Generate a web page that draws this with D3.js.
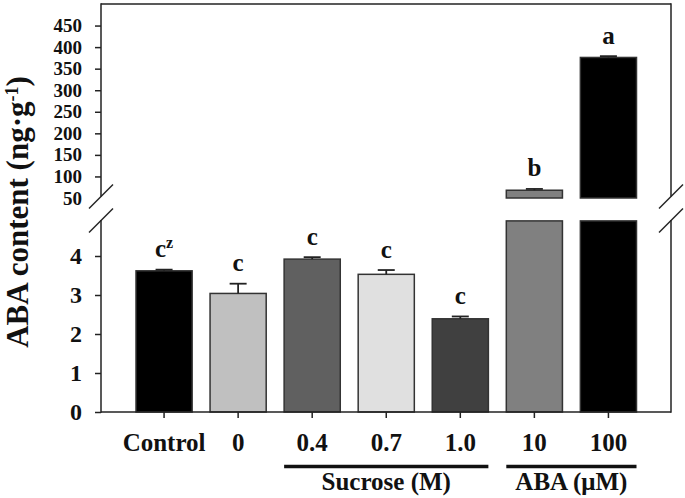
<!DOCTYPE html>
<html>
<head>
<meta charset="utf-8">
<script src="https://cdn.jsdelivr.net/npm/d3@7"></script>
<style>
  html, body { margin: 0; padding: 0; background: #fff; }
  svg { display: block; }
  text { font-family: "Liberation Serif", "Times New Roman", serif; font-weight: bold; fill: #111; }
</style>
</head>
<body>
<script>
// ---- data ----
const categories = ["Control", "0", "0.4", "0.7", "1.0", "10", "100"];
const values     = [3.62, 3.04, 3.92, 3.53, 2.39, 68, 376];
const errors     = [0.03, 0.25, 0.05, 0.11, 0.06, 3, 3];
const letters    = ["c", "c", "c", "c", "c", "b", "a"];
const fills      = ["#000000", "#c0c0c0", "#606060", "#e0e0e0", "#404040", "#808080", "#000000"];
const lowerTicks = [0, 1, 2, 3, 4];
const upperTicks = [50, 100, 150, 200, 250, 300, 350, 400, 450];
const groupLabels = ["Sucrose (M)", "ABA (\u03BCM)"];
const groupFrom   = ["0.4", "10"];
const groupTo     = ["1.0", "100"];
const lowerMax = 4.9, upperMin = 50, upperMax = 500;

// ---- layout ----
const W = 685, H = 498;
const pLeft = 101, pRight = 671, pTop = 4, pBottom = 412;
const lowerTop = 220.9, upperBottom = 198;

const svg = d3.select("body").append("svg").attr("width", W).attr("height", H);

const x = d3.scaleBand().domain(categories).range([136, 636.5]).paddingInner(0.242).paddingOuter(0);
const ylo = d3.scaleLinear().domain([0, lowerMax]).range([pBottom, lowerTop]);
const yhi = d3.scaleLinear().domain([upperMin, upperMax]).range([upperBottom, pTop]);

const data = categories.map((c, i) => ({ c, v: values[i], e: errors[i], l: letters[i], f: fills[i] }));

// bars
const bars = svg.append("g");
data.forEach(d => {
  const bx = x(d.c), bw = x.bandwidth();
  if (d.v <= lowerMax) {
    bars.append("rect").attr("x", bx).attr("y", ylo(d.v)).attr("width", bw).attr("height", ylo(0) - ylo(d.v))
      .attr("fill", d.f).attr("stroke", "#333").attr("stroke-width", 1.5);
  } else {
    bars.append("rect").attr("x", bx).attr("y", ylo(lowerMax)).attr("width", bw).attr("height", ylo(0) - ylo(lowerMax))
      .attr("fill", d.f).attr("stroke", "#333").attr("stroke-width", 1.5);
    bars.append("rect").attr("x", bx).attr("y", yhi(d.v)).attr("width", bw).attr("height", yhi(upperMin) - yhi(d.v))
      .attr("fill", d.f).attr("stroke", "#333").attr("stroke-width", 1.5);
  }
});

// error bars and letters
const eg = svg.append("g").attr("stroke", "#222").attr("stroke-width", 1.8);
data.forEach(d => {
  const s = d.v <= lowerMax ? ylo : yhi;
  const cx = x(d.c) + x.bandwidth() / 2;
  const y0 = s(d.v), y1 = s(d.v + d.e);
  eg.append("line").attr("x1", cx).attr("x2", cx).attr("y1", y0).attr("y2", y1);
  eg.append("line").attr("x1", cx - 8.5).attr("x2", cx + 8.5).attr("y1", y1).attr("y2", y1);
  const t = svg.append("text").attr("x", cx).attr("y", y1 - 12.5).attr("text-anchor", "middle")
    .style("font-size", "25px").text(d.l);
  if (d.c === "Control") {
    t.append("tspan").attr("dy", -9).style("font-size", "16px").text("z");
  }
});

// frame lines
const lg = svg.append("g").attr("stroke", "#222").attr("stroke-width", 1.5).attr("fill", "none");
lg.append("line").attr("x1", pLeft).attr("x2", pRight).attr("y1", pTop).attr("y2", pTop);
lg.append("line").attr("x1", pLeft).attr("x2", pRight).attr("y1", pBottom).attr("y2", pBottom);
[pLeft, pRight].forEach(xx => {
  lg.append("line").attr("x1", xx).attr("x2", xx).attr("y1", pTop - 0.75).attr("y2", upperBottom - 1.5);
  lg.append("line").attr("x1", xx).attr("x2", xx).attr("y1", lowerTop - 0.9).attr("y2", pBottom + 0.75);
  [upperBottom - 1.5, lowerTop - 0.4].forEach(yy => {
    lg.append("line").attr("x1", xx - 12).attr("x2", xx + 12).attr("y1", yy + 12).attr("y2", yy - 12);
  });
});

// left axes
const axLo = svg.append("g").attr("transform", `translate(${pLeft},0)`)
  .call(d3.axisLeft(ylo).tickValues(lowerTicks).tickSize(6).tickPadding(13).tickFormat(d3.format("d")));
const axHi = svg.append("g").attr("transform", `translate(${pLeft},0)`)
  .call(d3.axisLeft(yhi).tickValues(upperTicks).tickSize(6).tickPadding(13).tickFormat(d3.format("d")));
[axLo, axHi].forEach(a => {
  a.select(".domain").remove();
  a.selectAll(".tick line").attr("stroke", "#222").attr("stroke-width", 1.5);
  a.selectAll(".tick text").attr("fill", "#111")
    .style("font-family", "'Liberation Serif','Times New Roman',serif").style("font-weight", "bold");
});
axLo.selectAll(".tick text").style("font-size", "24px");
axHi.selectAll(".tick text").style("font-size", "19px");
axHi.selectAll(".tick").filter(d => d === upperMin).select("line").remove();

// bottom axis
const axX = svg.append("g").attr("transform", `translate(0,${pBottom})`)
  .call(d3.axisBottom(x).tickSize(6).tickPadding(15));
axX.select(".domain").remove();
axX.selectAll(".tick line").attr("stroke", "#222").attr("stroke-width", 1.5);
axX.selectAll(".tick text").style("font-size", "25px").attr("fill", "#111")
  .style("font-family", "'Liberation Serif','Times New Roman',serif").style("font-weight", "bold");

// group underlines and labels
groupLabels.forEach((g, i) => {
  const x0 = x(groupFrom[i]), x1 = x(groupTo[i]) + x.bandwidth();
  svg.append("line").attr("x1", x0).attr("x2", x1).attr("y1", 466.5).attr("y2", 466.5)
    .attr("stroke", "#111").attr("stroke-width", 3.5);
  svg.append("text").attr("x", (x0 + x1) / 2).attr("y", 490).attr("text-anchor", "middle")
    .style("font-size", "25px").text(g);
});

// y label
const yl = svg.append("text").attr("transform", "translate(28,212) rotate(-90)").attr("text-anchor", "middle")
  .style("font-size", "31px");
yl.append("tspan").text("ABA content (ng\u00B7g");
yl.append("tspan").attr("dy", -10).style("font-size", "18px").text("-1");
yl.append("tspan").attr("dy", 10).text(")");
</script>
</body>
</html>
